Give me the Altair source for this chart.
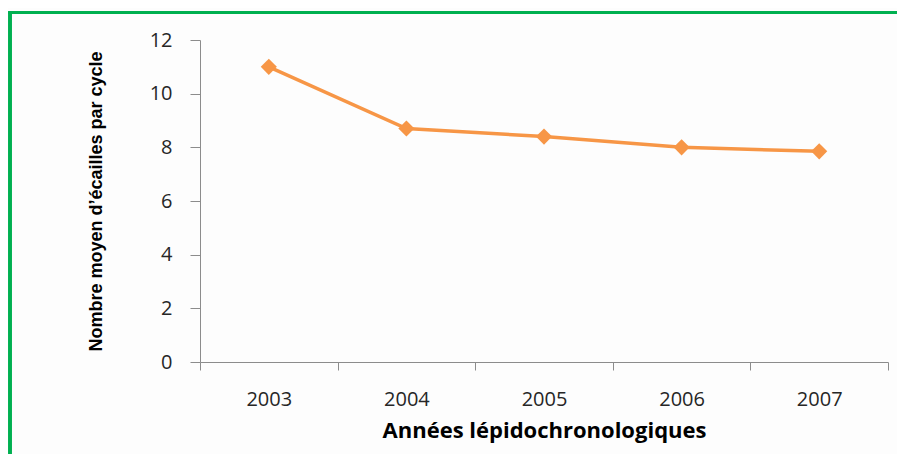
import altair as alt
import pandas as pd

years = ["2003", "2004", "2005", "2006", "2007"]
values = [11.0, 8.7, 8.4, 8.0, 7.85]

df = pd.DataFrame({"annee": years, "valeur": values})

ORANGE = "#F79646"
GREEN = "#00B050"
AXIS_GRAY = "#8C8C8C"

base = alt.Chart(df)

x_enc = alt.X(
    "annee:N",
    sort=years,
    scale=alt.Scale(paddingInner=0, paddingOuter=0),
    axis=alt.Axis(
        title="Années lépidochronologiques",
        labelAngle=0,
        tickBand="extent",
        tickSize=8,
        tickColor=AXIS_GRAY,
        domainColor=AXIS_GRAY,
        labelFont="Open Sans",
        labelFontSize=20,
        labelColor="#262626",
        labelPadding=19,
        titleFont="Open Sans",
        titleFontSize=22,
        titleFontWeight="bold",
        titleColor="#000000",
        titlePadding=11,
    ),
)
y_enc = alt.Y(
    "valeur:Q",
    scale=alt.Scale(domain=[0, 12]),
    axis=alt.Axis(
        title="Nombre moyen  d’écailles par cycle",
        values=[0, 2, 4, 6, 8, 10, 12],
        grid=False,
        tickSize=10,
        tickColor=AXIS_GRAY,
        domainColor=AXIS_GRAY,
        labelFont="Open Sans",
        labelFontSize=20,
        labelColor="#262626",
        labelPadding=18,
        titleFont="Liberation Sans",
        titleFontSize=18,
        titleFontWeight="bold",
        titleColor="#000000",
        titlePadding=44,
    ),
)

line = base.mark_line(color=ORANGE, strokeWidth=3.5).encode(x=x_enc, y=y_enc)
points = base.mark_point(
    shape="diamond", filled=True, color=ORANGE, size=260, opacity=1
).encode(x=alt.X("annee:N", sort=years), y="valeur:Q")

# decorative green frame (outside the plot area)
frame_v = alt.Chart(df).mark_rule(color=GREEN, strokeWidth=3).encode(
    x=alt.value(-190), y=alt.value(-27.5), y2=alt.value(420)
)
frame_h = alt.Chart(df).mark_rule(color=GREEN, strokeWidth=3).encode(
    x=alt.value(-191.5), x2=alt.value(720), y=alt.value(-27.5)
)

chart = (
    alt.layer(line, points, frame_v, frame_h)
    .properties(
        width=688,
        height=322,
        padding={"left": 192, "top": 32, "right": 9, "bottom": 92},
        autosize=alt.AutoSizeParams(type="none"),
        background="#FDFDFD",
    )
    .configure_view(strokeWidth=0)
)

chart.save("out.html", embed_options={"renderer": "svg", "actions": False})
